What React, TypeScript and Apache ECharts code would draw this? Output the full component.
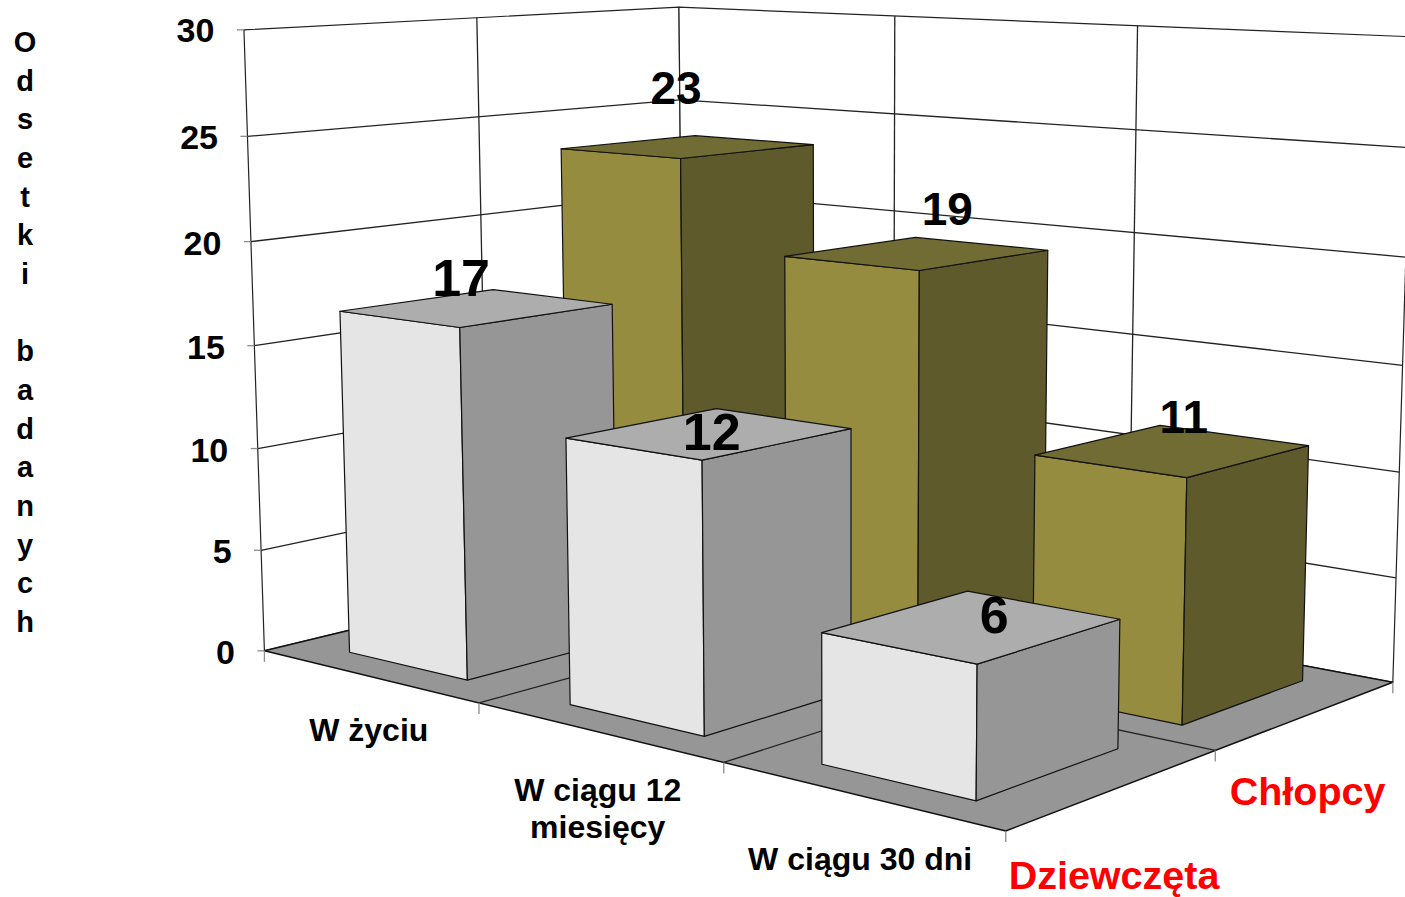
import React, { useEffect, useRef } from "react";
import * as echarts from "echarts";

const categories = ["W życiu", "W ciągu 12\nmiesięcy", "W ciągu 30 dni"];
// bar heights; the printed labels are these values rounded
const girls = [16.7, 12.33, 5.75];
const boys = [23.4, 19.1, 11.2];
const yTicks = [0, 5, 10, 15, 20, 25, 30];
const depthNames = ["Dziewczęta", "Chłopcy"];
const axisTitle = "O\nd\ns\ne\nt\nk\ni\n \nb\na\nd\na\nn\ny\nc\nh";

// camera calibration: world (category, value, depth) -> page pixel, fitted with a DLT
const calibration: number[][] = [
  [0, 0, 0, 264, 651],
  [1, 0, 0, 479.5, 702.7],
  [2, 0, 0, 724, 763.5],
  [3, 0, 0, 1005.5, 830.5],
  [3, 0, 1, 1215, 749.5],
  [3, 0, 2, 1393, 683],
  [0, 0, 2, 684, 549],
  [0, 30, 0, 243.5, 30],
  [0, 25, 0, 247.5, 136],
  [0, 30, 1, 477.7, 18],
  [0, 30, 2, 679, 6.5],
  [1, 30, 2, 894, 17],
  [2, 30, 2, 1137.5, 25.5],
  [3, 30, 2, 1413, 36.5],
];

function solve(A: number[][], b: number[]) {
  const n = b.length;
  const M = A.map((r, i) => [...r, b[i]]);
  for (let c = 0; c < n; c++) {
    let piv = c;
    for (let r = c + 1; r < n; r++) if (Math.abs(M[r][c]) > Math.abs(M[piv][c])) piv = r;
    [M[c], M[piv]] = [M[piv], M[c]];
    for (let r = 0; r < n; r++) {
      if (r === c) continue;
      const f = M[r][c] / M[c][c];
      for (let k = c; k <= n; k++) M[r][k] -= f * M[c][k];
    }
  }
  return M.map((r, i) => r[n] / r[i]);
}

function fitCamera() {
  const rows: number[][] = [];
  const rhs: number[] = [];
  calibration.forEach(([x, y, z, u0, v0]) => {
    const X = x / 3, Y = y / 30, Z = z / 2, u = u0 / 1000, v = v0 / 1000;
    rows.push([X, Y, Z, 1, 0, 0, 0, 0, -u * X, -u * Y, -u * Z]);
    rhs.push(u);
    rows.push([0, 0, 0, 0, X, Y, Z, 1, -v * X, -v * Y, -v * Z]);
    rhs.push(v);
  });
  const N = 11;
  const A = Array.from({ length: N }, (_, i) =>
    Array.from({ length: N }, (_, j) => rows.reduce((s, r) => s + r[i] * r[j], 0))
  );
  const b = Array.from({ length: N }, (_, i) => rows.reduce((s, r, k) => s + r[i] * rhs[k], 0));
  return solve(A, b);
}
const cam = fitCamera();

function proj(x: number, y: number, z: number): number[] {
  const X = x / 3, Y = y / 30, Z = z / 2;
  const w = cam[8] * X + cam[9] * Y + cam[10] * Z + 1;
  return [
    (1000 * (cam[0] * X + cam[1] * Y + cam[2] * Z + cam[3])) / w,
    (1000 * (cam[4] * X + cam[5] * Y + cam[6] * Z + cam[7])) / w,
  ];
}

const GAP_X = 0.225;
const GAP_Z = 0.165;
const FONT = "'Liberation Sans', Arial, sans-serif";
const EDGE = "#111111";
const GRID = "#222222";
const TICK = "#8c8c8c";

const palettes = [
  { front: "#e5e5e5", side: "#969696", top: "#adadad" },
  { front: "#968c40", side: "#5f5a2b", top: "#716b34" },
];
// label nudges in pixels from each bar's top centre, [depth][category]
const labelNudge = [
  [[-16, -30], [2, -1], [22, -11]],
  [[-12, -59], [30, -44], [11, -33]],
];
const labelSize = [52, 46];

const poly = (pts: number[][], fill: string, stroke = EDGE, lineWidth = 1.2) => ({
  type: "polygon",
  shape: { points: pts },
  style: { fill, stroke, lineWidth, lineJoin: "round" },
});
const seg = (a: number[], b: number[], stroke = GRID, lineWidth = 1.3) => ({
  type: "line",
  shape: { x1: a[0], y1: a[1], x2: b[0], y2: b[1] },
  style: { stroke, lineWidth, fill: "none" },
});
const label = (text: string, x: number, y: number, size: number, fill = "#000", align = "center", extra: any = {}) => ({
  type: "text",
  style: { text, x, y, fill, fontFamily: FONT, fontWeight: "bold", fontSize: size, align, verticalAlign: "middle", ...extra },
});

function wallsItem() {
  const children: any[] = [];
  children.push(poly([proj(0, 0, 0), proj(0, 30, 0), proj(0, 30, 2), proj(0, 0, 2)], "#ffffff", GRID));
  children.push(poly([proj(0, 0, 2), proj(0, 30, 2), proj(3, 30, 2), proj(3, 0, 2)], "#ffffff", GRID));
  children.push(poly([proj(0, 0, 0), proj(3, 0, 0), proj(3, 0, 2), proj(0, 0, 2)], "#969696", "#111", 1.5));
  yTicks.forEach((t) => {
    if (t > 0 && t < 30) {
      children.push(seg(proj(0, t, 0), proj(0, t, 2)));
      children.push(seg(proj(0, t, 2), proj(3, t, 2)));
    }
    const p = proj(0, t, 0);
    children.push(seg([p[0] - 7, p[1]], p, TICK));
  });
  children.push(seg(proj(0, 0, 1), proj(0, 30, 1)));
  categories.forEach((_, i) => {
    if (i > 0) {
      children.push(seg(proj(i, 0, 0), proj(i, 0, 2)));
      children.push(seg(proj(i, 0, 2), proj(i, 30, 2)));
    }
  });
  children.push(seg(proj(0, 0, 1), proj(3, 0, 1)));
  [proj(0, 0, 0), proj(1, 0, 0), proj(2, 0, 0), proj(3, 0, 0), proj(3, 0, 1), proj(3, 0, 2)].forEach((p) =>
    children.push(seg(p, [p[0], p[1] + 11], TICK))
  );
  return { type: "group", children };
}

const barRender = (depth: number) => (_: any, api: any) => {
  const c = api.value(0);
  const v = api.value(1);
  const x0 = c + GAP_X, x1 = c + 1 - GAP_X;
  const z0 = depth + GAP_Z, z1 = depth + 1 - GAP_Z;
  const pal = palettes[depth];
  return {
    type: "group",
    children: [
      poly([proj(x0, 0, z0), proj(x1, 0, z0), proj(x1, v, z0), proj(x0, v, z0)], pal.front),
      poly([proj(x1, 0, z0), proj(x1, 0, z1), proj(x1, v, z1), proj(x1, v, z0)], pal.side),
      poly([proj(x0, v, z0), proj(x1, v, z0), proj(x1, v, z1), proj(x0, v, z1)], pal.top),
    ],
  };
};

const valueLabelRender = (depth: number) => (_: any, api: any) => {
  const c = api.value(0);
  const v = api.value(1);
  const p = proj(c + 0.5, v, depth + 0.5);
  const n = labelNudge[depth][c];
  return label(String(Math.round(v)), p[0] + n[0], p[1] + n[1], labelSize[depth]);
};

const tickRender = (_: any, api: any) => {
  const t = api.value(0);
  const p = proj(0, t, 0);
  return label(String(t), p[0] - 29.5, p[1] + (t === 30 ? 0 : 1), 34, "#000", "right");
};

const categoryNudge = [54, 59, 64];
const categoryRender = (_: any, api: any) => {
  const i = api.value(0);
  const p = proj(i + 0.5, 0, 0);
  return label(categories[i], p[0] + 0.5, p[1] + categoryNudge[i] + (i === 1 ? 18 : 0), 32, "#000", "center", { lineHeight: 37 });
};

const depthRender = (_: any, api: any) => {
  const i = api.value(0);
  const p = proj(3, 0, i + 0.5);
  return label(depthNames[i], p[0] + (i === 0 ? -1 : 0), p[1] + (i === 0 ? 86 : 76), 39.5, "#ff0000");
};

const titleRender = () => label(axisTitle, 25, 332, 29, "#000", "center", { lineHeight: 38.67 });

const custom = (name: string, data: any[], renderItem: any) => ({
  type: "custom",
  name,
  coordinateSystem: "none",
  silent: true,
  clip: false,
  data,
  renderItem,
});

export default function App() {
  const ref = useRef<HTMLDivElement>(null);
  useEffect(() => {
    const chart = echarts.init(ref.current!, undefined, { renderer: "svg" });
    chart.setOption({
      animation: false,
      backgroundColor: "#ffffff",
      series: [
        custom("walls", [[0]], wallsItem),
        custom("Chłopcy", boys.map((v, i) => [i, v]), barRender(1)),
        custom("Dziewczęta", girls.map((v, i) => [i, v]), barRender(0)),
        custom("Chłopcy labels", boys.map((v, i) => [i, v]), valueLabelRender(1)),
        custom("Dziewczęta labels", girls.map((v, i) => [i, v]), valueLabelRender(0)),
        custom("ticks", yTicks.map((t) => [t]), tickRender),
        custom("categories", categories.map((_, i) => [i]), categoryRender),
        custom("depth", depthNames.map((_, i) => [i]), depthRender),
        custom("title", [[0]], titleRender),
      ],
    });
    return () => chart.dispose();
  }, []);
  return <div ref={ref} style={{ position: "absolute", left: 0, top: 0, width: 1405, height: 897 }} />;
}
